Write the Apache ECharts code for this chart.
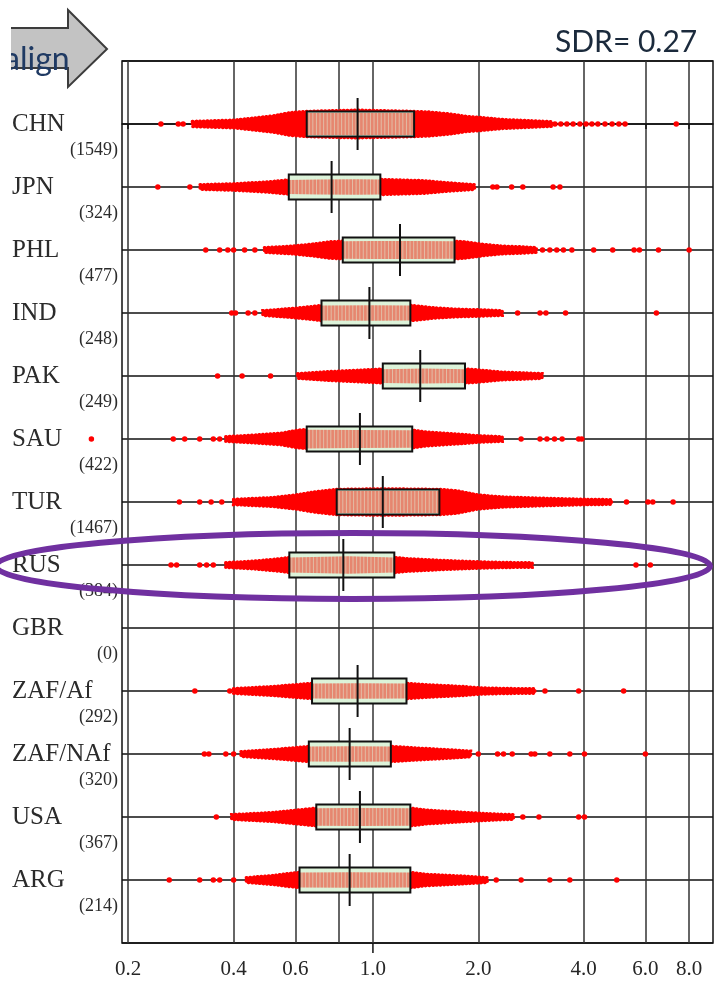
<!DOCTYPE html>
<html><head><meta charset="utf-8">
<script src="https://cdn.jsdelivr.net/npm/echarts@6/dist/echarts.min.js"></script>
<style>html,body{margin:0;padding:0;background:#fff}#c{width:716px;height:986px}</style>
</head><body><div id="c"></div>
<script>
// ---------------- data ----------------
const countries = ['CHN','JPN','PHL','IND','PAK','SAU','TUR','RUS','GBR','ZAF/Af','ZAF/NAf','USA','ARG'];
const counts = [1549,324,477,248,249,422,1467,384,0,292,320,367,214];
const q1 = [0.647,0.575,0.82,0.713,1.067,0.647,0.788,0.577,null,0.67,0.656,0.689,0.617];
const medians = [0.904,0.762,1.195,0.977,1.365,0.918,1.067,0.823,null,0.904,0.858,0.918,0.858];
const q3 = [1.311,1.05,1.71,1.279,1.832,1.295,1.548,1.151,null,1.247,1.125,1.279,1.279];
// dense part of each point cloud: [value, relative density]
const envCHN = [[0.305,0.2],[0.40,0.3],[0.45,0.45],[0.52,0.65],[0.58,0.9],[0.647,1.0],[0.75,1.05],[0.9,1.1],[1.1,1.05],[1.31,1.0],[1.45,0.95],[1.65,0.8],[1.85,0.6],[2.06,0.5],[2.35,0.35],[2.7,0.28],[3.0,0.22],[3.25,0.18]];
const envJPN = [[0.321,0.18],[0.40,0.25],[0.5,0.4],[0.57,0.55],[0.7,0.6],[0.9,0.62],[1.05,0.6],[1.2,0.55],[1.4,0.5],[1.6,0.35],[1.8,0.25],[1.95,0.18]];
const envPHL = [[0.49,0.18],[0.586,0.3],[0.665,0.45],[0.755,0.65],[0.82,0.7],[1.0,0.72],[1.3,0.72],[1.71,0.7],[1.82,0.65],[2.06,0.45],[2.34,0.3],[2.65,0.25],[2.93,0.18]];
const envIND = [[0.485,0.18],[0.586,0.35],[0.665,0.5],[0.713,0.6],[1.0,0.62],[1.28,0.6],[1.34,0.55],[1.5,0.4],[1.73,0.3],[2.0,0.25],[2.34,0.18]];
const envPAK = [[0.61,0.18],[0.755,0.35],[0.9,0.45],[1.067,0.55],[1.4,0.6],[1.83,0.55],[1.96,0.5],[2.34,0.3],[2.65,0.25],[3.04,0.18]];
const envSAU = [[0.38,0.18],[0.456,0.3],[0.545,0.45],[0.61,0.7],[0.647,0.75],[0.9,0.72],[1.295,0.7],[1.415,0.55],[1.6,0.45],[1.82,0.35],[2.0,0.25],[2.34,0.18]];
const envTUR = [[0.40,0.2],[0.517,0.35],[0.6,0.55],[0.68,0.8],[0.788,1.0],[1.07,1.05],[1.55,1.0],[1.73,0.9],[2.0,0.55],[2.34,0.4],[3.0,0.3],[3.87,0.22],[4.8,0.18]];
const envRUS = [[0.38,0.18],[0.456,0.3],[0.545,0.5],[0.577,0.6],[0.85,0.7],[1.15,0.6],[1.25,0.5],[1.6,0.35],[2.0,0.25],[2.34,0.2],[2.85,0.17]];
const envGBR = [];
const envZAFAf = [[0.40,0.18],[0.517,0.35],[0.6,0.5],[0.67,0.6],[0.9,0.62],[1.247,0.6],[1.415,0.5],[1.82,0.35],[2.0,0.25],[2.34,0.2],[2.9,0.17]];
const envZAFNAf = [[0.42,0.18],[0.517,0.35],[0.6,0.5],[0.656,0.6],[0.86,0.62],[1.125,0.6],[1.28,0.5],[1.6,0.35],[1.9,0.22]];
const envUSA = [[0.395,0.18],[0.517,0.35],[0.61,0.55],[0.689,0.7],[0.9,0.72],[1.279,0.7],[1.415,0.55],[1.73,0.4],[2.0,0.3],[2.27,0.22],[2.52,0.18]];
const envARG = [[0.435,0.18],[0.517,0.35],[0.57,0.5],[0.617,0.6],[0.86,0.62],[1.279,0.6],[1.415,0.45],[1.82,0.3],[2.12,0.18]];
const envelopes = [envCHN,envJPN,envPHL,envIND,envPAK,envSAU,envTUR,envRUS,envGBR,envZAFAf,envZAFNAf,envUSA,envARG];
// isolated points
const outCHN = [0.248,0.278,0.287,3.31,3.44,3.58,3.73,3.9,4.06,4.22,4.39,4.6,4.82,5.04,5.25,7.35];
const outJPN = [0.243,0.30,2.2,2.26,2.49,2.68,3.27,3.42];
const outPHL = [0.333,0.365,0.385,0.40,0.43,0.46,3.05,3.2,3.35,3.5,3.7,4.27,4.84,5.57,5.77,6.54,8.0];
const outIND = [0.395,0.405,0.44,0.46,2.59,3.0,3.12,3.55,6.45];
const outPAK = [0.36,0.423,0.51];
const outSAU = [0.157,0.269,0.29,0.32,0.35,0.365,2.65,3.0,3.14,3.3,3.47,3.87,3.95];
const outTUR = [0.28,0.32,0.345,0.37,5.3,6.1,6.3,7.2];
const outRUS = [0.265,0.275,0.32,0.335,0.35,5.64,6.2];
const outGBR = [];
const outZAFAf = [0.31,0.39,3.1,3.87,5.2];
const outZAFNAf = [0.33,0.34,0.38,0.40,2.0,2.27,2.36,2.5,2.83,2.9,3.2,3.65,4.02,6.0];
const outUSA = [0.357,2.68,2.98,3.87,4.02];
const outARG = [0.262,0.32,0.35,0.365,0.40,2.25,2.65,3.2,3.65,4.97];
const outliers = [outCHN,outJPN,outPHL,outIND,outPAK,outSAU,outTUR,outRUS,outGBR,outZAFAf,outZAFNAf,outUSA,outARG];
const gridValues = [0.2,0.4,0.6,0.8,1,2,4,6,8];
const tickLabels = ['0.2','0.4','0.6','1.0','2.0','4.0','6.0','8.0'];
const refValue = 1.0;
const xMin = 0.192, xMax = 9.36;
const sdrText = 'SDR= 0.27';
const arrowText = 'align';
const highlightRow = 7;

// ---------------- chart ----------------
const L = Math.log10;
const DENS_PX = 12.5, BOX_HALF = 12.5, MED_HALF = 26;
const serif = 'Liberation Serif';
const chart = echarts.init(document.getElementById('c'));
const rowData = countries.map((c, i) => [medians[i] != null ? L(medians[i]) : 0, i]);
const outlierData = [];
outliers.forEach((arr, i) => arr.forEach(v => outlierData.push([L(v), i])));
const labelVals = tickLabels.map(s => L(parseFloat(s)));

function envPts(row) { return envelopes[row].map(([v, d]) => [L(v), d]); }
function dAt(pts, x) {
  for (let j = 0; j < pts.length - 1; j++) {
    if (x >= pts[j][0] && x <= pts[j + 1][0]) {
      const t = (x - pts[j][0]) / (pts[j + 1][0] - pts[j][0]);
      return pts[j][1] + t * (pts[j + 1][1] - pts[j][1]);
    }
  }
  return 0;
}
function renderViolin(params, api) {
  const row = api.value(1);
  const pts = envPts(row);
  if (!pts.length) return;
  const top = [], bot = [];
  pts.forEach(([x, d]) => {
    const p = api.coord([x, row]);
    top.push([p[0], p[1] - d * DENS_PX]);
    bot.push([p[0], p[1] + d * DENS_PX]);
  });
  return {
    type: 'polygon', shape: { points: top.concat(bot.reverse()) },
    style: { fill: '#ff0000', stroke: '#ff0000', lineWidth: 3.5, lineDash: [0.5, 3.2], lineCap: 'round' }
  };
}
function renderBox(params, api) {
  const row = api.value(1);
  if (q1[row] == null) return;
  const lo = L(q1[row]), hi = L(q3[row]);
  const a = api.coord([lo, row]), b = api.coord([hi, row]), m = api.coord([L(medians[row]), row]);
  const pts = envPts(row);
  const inner = [[lo, dAt(pts, lo)]].concat(pts.filter(p => p[0] > lo && p[0] < hi), [[hi, dAt(pts, hi)]]);
  const top = [], bot = [];
  inner.forEach(([x, d]) => {
    const p = api.coord([x, row]);
    const h = Math.min(d * DENS_PX, BOX_HALF - 1.5);
    top.push([p[0], p[1] - h]); bot.push([p[0], p[1] + h]);
  });
  const children = [
    { type: 'rect', shape: { x: a[0], y: a[1] - BOX_HALF, width: b[0] - a[0], height: 2 * BOX_HALF }, style: { fill: '#dcf3d9' } },
    { type: 'polygon', shape: { points: top.concat(bot.reverse()) }, style: { fill: '#e6866f' } }
  ];
  for (let x = a[0] + 2.5; x < b[0] - 1; x += 3.6) {
    children.push({ type: 'line', shape: { x1: x, y1: a[1] - BOX_HALF, x2: x, y2: a[1] + BOX_HALF }, style: { stroke: 'rgba(226,244,222,0.5)', lineWidth: 1 } });
  }
  children.push({ type: 'rect', shape: { x: a[0], y: a[1] - BOX_HALF, width: b[0] - a[0], height: 2 * BOX_HALF }, style: { fill: null, stroke: '#111', lineWidth: 2 } });
  children.push({ type: 'line', shape: { x1: m[0], y1: m[1] - MED_HALF, x2: m[0], y2: m[1] + MED_HALF }, style: { stroke: '#111', lineWidth: 2 } });
  return { type: 'group', children };
}
function renderRefTick(params, api) {
  const p = api.coord([api.value(0), api.value(1)]);
  return { type: 'line', shape: { x1: p[0], y1: p[1], x2: p[0], y2: p[1] + 10 }, style: { stroke: '#111', lineWidth: 1.5 } };
}

const option = {
  animation: false,
  backgroundColor: '#fff',
  grid: { left: 122, right: 3, top: 61, bottom: 43, show: true, borderColor: '#111', borderWidth: 1.5, containLabel: false },
  xAxis: {
    type: 'value', min: L(xMin), max: L(xMax),
    axisLine: { show: true, lineStyle: { color: '#111', width: 1.5 } },
    axisTick: { show: true, customValues: gridValues.map(L), length: 5, lineStyle: { color: '#111', width: 1.5 } },
    splitLine: { show: true, lineStyle: { color: '#333', width: 1.5 } },
    axisLabel: {
      customValues: labelVals, margin: 16, fontSize: 21, fontFamily: serif, color: '#262626',
      formatter: v => { const i = labelVals.findIndex(x => Math.abs(x - v) < 1e-6); return i >= 0 ? tickLabels[i] : ''; }
    }
  },
  yAxis: {
    type: 'value', inverse: true, min: -1, max: 13, interval: 1,
    axisLine: { show: false }, axisTick: { show: false },
    splitLine: { show: true, lineStyle: { color: '#111', width: 1.6 } },
    axisLabel: {
      margin: 4, align: 'right', fontFamily: serif, color: '#2b2b2b',
      formatter: v => { const i = Math.round(v); if (i < 0 || i >= countries.length) return ''; return '{e| }\n{n|' + countries[i] + '}\n{c|(' + counts[i] + ')}'; },
      rich: {
        e: { fontSize: 10, lineHeight: 26, width: 106 },
        n: { fontSize: 25, lineHeight: 26, width: 106, align: 'left', fontFamily: serif, color: '#2b2b2b' },
        c: { fontSize: 18, lineHeight: 26, align: 'right', fontFamily: serif, color: '#2b2b2b' }
      }
    }
  },
  series: [
    { type: 'custom', name: 'cloud', renderItem: renderViolin, data: rowData, encode: { x: 0, y: 1 }, z: 2, silent: true },
    { type: 'scatter', name: 'points', data: outlierData, symbolSize: 5.5, itemStyle: { color: '#ff0000', opacity: 1 }, clip: false, z: 3, silent: true },
    { type: 'custom', name: 'box', renderItem: renderBox, data: rowData, encode: { x: 0, y: 1 }, z: 4, silent: true },
    { type: 'custom', name: 'refTick', renderItem: renderRefTick, data: [[L(refValue), 13]], encode: { x: 0, y: 1 }, clip: false, z: 5, silent: true }
  ]
};
chart.setOption(option);

const rc = chart.convertToPixel({ gridIndex: 0 }, [0, highlightRow]);
chart.setOption({
  graphic: [
    { type: 'polygon', z: 9, shape: { points: [[-5, 28], [68, 28], [68, 10], [107, 49], [68, 87], [68, 68], [-5, 68]] }, style: { fill: '#c3c3c3', stroke: '#3c3c3c', lineWidth: 2 } },
    { type: 'text', z: 10, style: { x: 4, y: 76, text: arrowText, font: '32px Lato', fill: '#1f3a63', verticalAlign: 'bottom' } },
    { type: 'rect', z: 11, shape: { x: 0, y: 0, width: 11, height: 95 }, style: { fill: '#fff' } },
    { type: 'text', z: 10, style: { x: 555, y: 27, text: sdrText, font: '30px Lato', fill: '#1b2a3c' } },
    { type: 'ellipse', z: 12, shape: { cx: 353, cy: rc[1] + 1, rx: 357, ry: 33 }, style: { fill: null, stroke: '#7030a0', lineWidth: 6 } }
  ]
});
</script></body></html>
